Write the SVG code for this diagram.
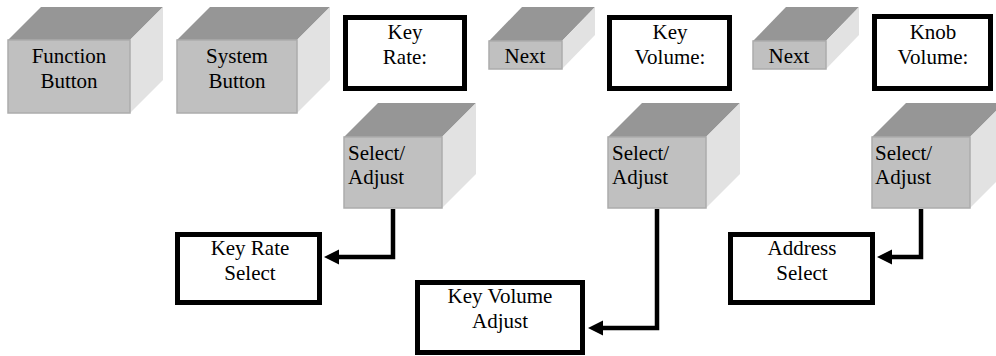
<svg xmlns="http://www.w3.org/2000/svg" width="996" height="356" viewBox="0 0 996 356">
<style>
.front{fill:#c0c0c0;stroke:#acacac;stroke-width:1.5}
.top{fill:#969696}
.side{fill:#e2e2e2}
.box{fill:#ffffff;stroke:#000000;stroke-width:5}
text{font-family:'Liberation Serif','Times New Roman',Times,'Noto Serif','DejaVu Serif',serif;font-size:21px;fill:#000000}
.c{text-anchor:middle}
.conn{fill:none;stroke:#000000;stroke-width:4.5}
</style>
<defs>
<marker id="arr" markerUnits="userSpaceOnUse" viewBox="-2 -8 16 16" markerWidth="16" markerHeight="16" refX="0" refY="0" orient="auto" overflow="visible">
<path d="M-2,-7.5 L13,0 L-2,7.5 z" fill="#000000"/>
</marker>
</defs>
<rect width="996" height="356" fill="#ffffff"/>

<g id="function-button">
<polygon class="top" points="8,40 41,7 163,7 130,40"/>
<polygon class="side" points="130,40 163,7 163,80 130,113"/>
<rect class="front" x="8" y="40" width="122" height="73"/>
<text class="c" x="69" y="63" font-family="Liberation Serif, serif">Function</text>
<text class="c" x="69" y="88" font-family="Liberation Serif, serif">Button</text>
</g>

<g id="system-button">
<polygon class="top" points="177,40 210,7 330,7 297,40"/>
<polygon class="side" points="297,40 330,7 330,80 297,113"/>
<rect class="front" x="177" y="40" width="120" height="73"/>
<text class="c" x="237" y="63" font-family="Liberation Serif, serif">System</text>
<text class="c" x="237" y="88" font-family="Liberation Serif, serif">Button</text>
</g>

<g id="key-rate">
<rect class="box" x="345.5" y="17.5" width="119" height="71"/>
<text class="c" x="405" y="39">Key</text>
<text class="c" x="405" y="64">Rate:</text>
</g>

<g id="next-1">
<polygon class="top" points="489,41 522,7 595,7 562,41"/>
<polygon class="side" points="562,41 595,7 595,35 562,69"/>
<rect class="front" x="489" y="41" width="73" height="28"/>
<text class="c" x="525" y="63">Next</text>
</g>

<g id="key-volume">
<rect class="box" x="609.5" y="17.5" width="120" height="71"/>
<text class="c" x="670" y="39">Key</text>
<text class="c" x="670" y="64">Volume:</text>
</g>

<g id="next-2">
<polygon class="top" points="753,41 786,7 859,7 826,41"/>
<polygon class="side" points="826,41 859,7 859,35 826,69"/>
<rect class="front" x="753" y="41" width="73" height="28"/>
<text class="c" x="789" y="63">Next</text>
</g>

<g id="knob-volume">
<rect class="box" x="874.5" y="16.5" width="116" height="72"/>
<text class="c" x="933" y="39">Knob</text>
<text class="c" x="933" y="64">Volume:</text>
</g>

<g id="select-adjust-1">
<polygon class="top" points="344,137 378,103 476,103 442,137"/>
<polygon class="side" points="442,137 476,103 476,174 442,208"/>
<rect class="front" x="344" y="137" width="98" height="71"/>
<text x="348" y="160">Select/</text>
<text x="348" y="184">Adjust</text>
</g>

<g id="select-adjust-2">
<polygon class="top" points="608,137 642,103 740,103 706,137"/>
<polygon class="side" points="706,137 740,103 740,174 706,208"/>
<rect class="front" x="608" y="137" width="98" height="71"/>
<text x="612" y="160">Select/</text>
<text x="612" y="184">Adjust</text>
</g>

<g id="select-adjust-3">
<polygon class="top" points="872,137 906,103 1004,103 970,137"/>
<polygon class="side" points="970,137 1004,103 1004,174 970,208"/>
<rect class="front" x="872" y="137" width="98" height="71"/>
<text x="875" y="160">Select/</text>
<text x="875" y="184">Adjust</text>
</g>

<g id="key-rate-select">
<rect class="box" x="177.5" y="234.5" width="142" height="68"/>
<text class="c" x="250" y="255">Key Rate</text>
<text class="c" x="250" y="280">Select</text>
</g>

<g id="key-volume-adjust">
<rect class="box" x="417.5" y="282.5" width="165" height="70"/>
<text class="c" x="500" y="303">Key Volume</text>
<text class="c" x="500" y="328">Adjust</text>
</g>

<g id="address-select">
<rect class="box" x="730.5" y="234.5" width="142" height="68"/>
<text class="c" x="802" y="255">Address</text>
<text class="c" x="802" y="280">Select</text>
</g>

<g id="connectors">
<path class="conn" d="M393,209 V257 H337" marker-end="url(#arr)"/>
<path class="conn" d="M657,209 V328 H601" marker-end="url(#arr)"/>
<path class="conn" d="M921,209 V257 H890" marker-end="url(#arr)"/>
</g>
</svg>
